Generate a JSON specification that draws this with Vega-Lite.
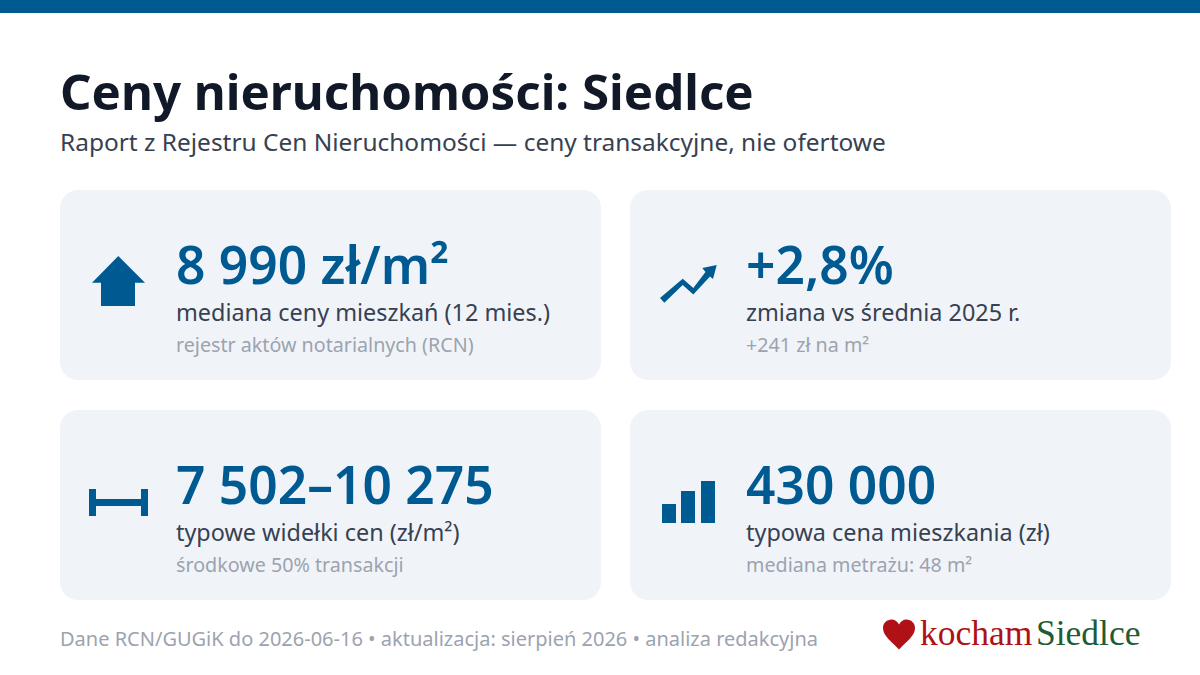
{
  "$schema": "https://vega.github.io/schema/vega-lite/v6.json",
  "width": 1200,
  "height": 675,
  "padding": 0,
  "autosize": { "type": "none" },
  "background": "#ffffff",
  "view": { "stroke": null },
  "config": { "text": { "font": "Noto Sans", "align": "left", "baseline": "alphabetic" } },
  "datasets": {
    "karty": [
      { "kol": 0, "wiersz": "gora", "ikona": "dom", "wartosc": "8 990 zł/m²", "opis": "mediana ceny mieszkań (12 mies.)", "zrodlo": "rejestr aktów notarialnych (RCN)" },
      { "kol": 1, "wiersz": "gora", "ikona": "trend", "wartosc": "+2,8%", "opis": "zmiana vs średnia 2025 r.", "zrodlo": "+241 zł na m²" },
      { "kol": 0, "wiersz": "dol", "ikona": "widelki", "wartosc": "7 502–10 275", "opis": "typowe widełki cen (zł/m²)", "zrodlo": "środkowe 50% transakcji" },
      { "kol": 1, "wiersz": "dol", "ikona": "slupki", "wartosc": "430 000", "opis": "typowa cena mieszkania (zł)", "zrodlo": "mediana metrażu: 48 m²" }
    ]
  },
  "encoding": {
    "x": {
      "field": "kol",
      "type": "ordinal",
      "bandPosition": 0,
      "axis": null,
      "scale": { "domain": [0, 1], "range": [60, 1171], "paddingInner": 0.0509, "paddingOuter": 0, "round": false }
    },
    "y": {
      "field": "wiersz",
      "type": "ordinal",
      "bandPosition": 0,
      "axis": null,
      "scale": { "domain": ["naglowek", "gora", "dol", "stopka"], "range": [-30, 820], "paddingInner": 0.13636, "paddingOuter": 0, "round": false }
    }
  },
  "layer": [
    {
      "data": { "values": [{ "wiersz": "naglowek" }] },
      "mark": { "type": "rule", "color": "#005a92", "strokeWidth": 13, "yOffset": 36.5 },
      "encoding": { "x": null }
    },
    {
      "data": { "name": "karty" },
      "mark": { "type": "rect", "fill": "#f0f4f9", "cornerRadius": 18 },
      "encoding": {
        "x": { "field": "kol", "type": "ordinal" },
        "y": { "field": "wiersz", "type": "ordinal" }
      }
    },
    {
      "data": { "name": "karty" },
      "mark": { "type": "point", "filled": true, "size": 4, "opacity": 1, "color": "#005a92" },
      "encoding": {
        "shape": {
          "field": "ikona",
          "type": "nominal",
          "legend": null,
          "scale": {
            "domain": ["dom", "trend", "widelki", "slupki"],
            "range": [
              "M58.3 66 L85 92.7 H75 V116 H41 V92.7 H32 Z",
              "M30 108 L52.7 88.7 L63.3 98 L75.5 82 L72.3 78 L86.7 75 L83 89 L80 86.5 L63.3 104.5 L52.7 95 L34.3 112.7 Z",
              "M29 79 H36 V89 H81 V79 H88 V106 H81 V96 H36 V106 H29 Z",
              "M32 94 H46 V113 H32 Z M51 81 H65 V113 H51 Z M71 71 H85 V113 H71 Z"
            ]
          }
        }
      }
    },
    {
      "data": { "name": "karty" },
      "mark": { "type": "text", "fontSize": 51.5, "fontWeight": 600, "color": "#005a92", "dx": 116, "dy": 94 },
      "encoding": { "text": { "field": "wartosc" } }
    },
    {
      "data": { "name": "karty" },
      "mark": { "type": "text", "fontSize": 23.4, "color": "#374151", "dx": 116, "dy": 131 },
      "encoding": { "text": { "field": "opis" } }
    },
    {
      "data": { "name": "karty" },
      "mark": { "type": "text", "fontSize": 19.7, "color": "#9ca3af", "dx": 116, "dy": 162 },
      "encoding": { "text": { "field": "zrodlo" } }
    },
    {
      "data": { "values": [{ "kol": 0, "wiersz": "naglowek", "tekst": "Ceny nieruchomości: Siedlce" }] },
      "mark": { "type": "text", "fontSize": 49.2, "fontWeight": 700, "color": "#111827", "dy": 140 },
      "encoding": { "text": { "field": "tekst" } }
    },
    {
      "data": { "values": [{ "kol": 0, "wiersz": "naglowek", "tekst": "Raport z Rejestru Cen Nieruchomości — ceny transakcyjne, nie ofertowe" }] },
      "mark": { "type": "text", "fontSize": 24.45, "color": "#374151", "dy": 181 },
      "encoding": { "text": { "field": "tekst" } }
    },
    {
      "data": { "values": [{ "kol": 0, "wiersz": "stopka", "tekst": "Dane RCN/GUGiK do 2026-06-16 • aktualizacja: sierpień 2026 • analiza redakcyjna" }] },
      "mark": { "type": "text", "fontSize": 20, "color": "#9ca3af", "dy": 16 },
      "encoding": { "text": { "field": "tekst" } }
    },
    {
      "data": { "values": [{ "kol": 1, "wiersz": "stopka" }] },
      "mark": {
        "type": "point",
        "filled": true,
        "size": 4,
        "opacity": 1,
        "color": "#b01116",
        "shape": "M269 19.5 C262 12 253 6 253 -2 C253 -7 257 -10.5 261.5 -10.5 C265 -10.5 267.5 -8.5 269 -5.5 C270.5 -8.5 273 -10.5 276.5 -10.5 C281 -10.5 285 -7 285 -2 C285 6 276 12 269 19.5 Z"
      }
    },
    {
      "data": { "values": [{ "kol": 1, "wiersz": "stopka", "tekst": "kocham" }] },
      "mark": { "type": "text", "font": "Liberation Serif", "fontSize": 35.5, "color": "#b01116", "dx": 290, "dy": 15 },
      "encoding": { "text": { "field": "tekst" } }
    },
    {
      "data": { "values": [{ "kol": 1, "wiersz": "stopka", "tekst": "Siedlce" }] },
      "mark": { "type": "text", "font": "Liberation Serif", "fontSize": 35.5, "color": "#1f5c33", "dx": 406, "dy": 15 },
      "encoding": { "text": { "field": "tekst" } }
    }
  ]
}
